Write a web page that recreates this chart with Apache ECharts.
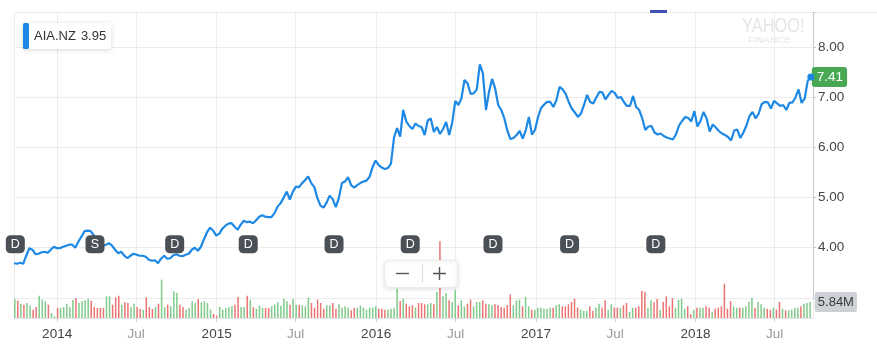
<!DOCTYPE html>
<html>
<head>
<meta charset="utf-8">
<script src="https://cdn.jsdelivr.net/npm/echarts@6/dist/echarts.min.js"></script>
<style>
  html, body { margin: 0; padding: 0; background: #fff; }
  #chart { width: 877px; height: 346px; }
</style>
</head>
<body>
<div id="chart"></div>
<script>
// ---- data -------------------------------------------------------------
const ticker = 'AIA.NZ';
const legendQuote = 3.95;

// weekly closes, first week ending 2013-09-26
const firstWeek = { y: 2013, m: 9, d: 26 };
const axisStart = '2013-09-26';
const axisEnd = '2018-09-25';

const closes = [
  3.69, 3.68, 3.70, 3.68, 3.84, 3.99, 3.96, 3.87, 3.88, 3.91,
  3.92, 3.90, 3.96, 4.02, 3.99, 3.99, 4.02, 4.04, 4.06, 4.06,
  4.00, 4.12, 4.22, 4.33, 4.34, 4.33, 4.25, 4.16, 4.09, 4.04,
  4.06, 4.09, 4.04, 3.96, 3.89, 3.92, 3.84, 3.79, 3.84, 3.88,
  3.86, 3.84, 3.84, 3.82, 3.76, 3.74, 3.75, 3.69, 3.78, 3.84,
  3.78, 3.79, 3.85, 3.87, 3.84, 3.83, 3.86, 3.88, 3.96, 4.00,
  3.94, 4.02, 4.17, 4.31, 4.40, 4.34, 4.24, 4.28, 4.38, 4.44,
  4.48, 4.49, 4.42, 4.36, 4.46, 4.54, 4.51, 4.52, 4.49, 4.55,
  4.62, 4.65, 4.62, 4.61, 4.61, 4.69, 4.82, 4.89, 5.00, 5.12,
  4.96, 5.12, 5.22, 5.21, 5.29, 5.35, 5.42, 5.29, 5.21, 4.99,
  4.84, 4.80, 4.90, 5.04, 4.97, 4.81, 4.99, 5.29, 5.32, 5.41,
  5.25, 5.20, 5.25, 5.29, 5.32, 5.34, 5.41, 5.61, 5.74, 5.65,
  5.60, 5.57, 5.59, 5.68, 6.20, 6.39, 6.22, 6.75, 6.52, 6.43,
  6.37, 6.48, 6.43, 6.41, 6.25, 6.54, 6.58, 6.31, 6.41, 6.27,
  6.37, 6.51, 6.25, 6.50, 6.93, 6.85, 6.98, 7.35, 7.28, 7.07,
  7.08, 7.16, 7.66, 7.48, 6.75, 7.11, 7.37, 7.18, 6.85, 6.75,
  6.58, 6.33, 6.17, 6.19, 6.25, 6.33, 6.18, 6.35, 6.61, 6.26,
  6.35, 6.61, 6.79, 6.86, 6.91, 6.91, 6.81, 6.95, 7.21, 7.16,
  7.07, 6.91, 6.78, 6.70, 6.61, 6.68, 6.85, 7.05, 6.91, 6.88,
  7.00, 7.11, 7.10, 6.96, 7.05, 7.13, 7.09, 6.99, 7.01, 6.91,
  6.83, 6.83, 7.03, 6.81, 6.75, 6.58, 6.35, 6.42, 6.43, 6.30,
  6.26, 6.28, 6.23, 6.20, 6.18, 6.16, 6.26, 6.44, 6.53, 6.61,
  6.59, 6.52, 6.73, 6.42, 6.53, 6.71, 6.58, 6.32, 6.46, 6.40,
  6.33, 6.28, 6.25, 6.21, 6.14, 6.34, 6.36, 6.19, 6.30, 6.44,
  6.63, 6.71, 6.58, 6.68, 6.87, 6.91, 6.90, 6.78, 6.93, 6.88,
  6.83, 6.85, 6.75, 6.89, 6.90, 7.00, 7.16, 6.89, 6.98, 7.33,
  7.41
];

// weekly volume, millions of shares
const volumesM = [
  7.06, 6.33, 5.23, 4.87, 5.48, 4.50, 3.04, 4.02, 8.15, 6.69,
  6.09, 4.87, 1.83, 0.61, 3.65, 3.65, 4.02, 5.23, 4.02, 6.69,
  7.30, 5.48, 6.09, 6.45, 7.06, 6.33, 4.02, 3.65, 3.65, 3.65,
  7.91, 7.91, 4.87, 7.55, 8.15, 4.87, 5.72, 5.48, 4.02, 5.23,
  4.02, 3.41, 3.04, 7.55, 4.02, 3.29, 4.02, 5.23, 14.0, 4.02,
  4.87, 4.26, 9.74, 9.13, 4.87, 4.02, 3.04, 3.65, 6.09, 5.48,
  6.94, 5.72, 6.09, 5.48, 3.04, 1.46, 0.85, 4.02, 3.04, 3.65,
  4.02, 4.26, 4.87, 7.67, 4.02, 4.02, 8.15, 6.69, 4.02, 3.29,
  4.50, 3.65, 3.65, 3.65, 4.26, 4.87, 5.72, 4.50, 7.06, 6.09,
  4.87, 7.06, 4.87, 4.87, 4.62, 4.26, 7.42, 5.48, 3.77, 6.69,
  5.48, 3.41, 4.62, 4.62, 5.48, 3.41, 4.99, 3.77, 4.26, 3.77,
  2.80, 3.77, 3.77, 4.62, 3.77, 3.04, 3.77, 3.77, 4.26, 3.41,
  3.41, 3.04, 3.04, 3.41, 3.77, 10.7, 6.21, 7.06, 5.23, 4.26,
  4.62, 3.77, 5.48, 5.48, 4.99, 4.99, 5.48, 4.99, 9.49, 28.0,
  7.91, 9.13, 6.45, 5.84, 10.1, 4.62, 6.45, 4.26, 5.23, 6.69,
  4.26, 5.84, 5.84, 6.45, 5.23, 4.99, 4.62, 4.99, 4.62, 4.02,
  3.77, 4.62, 8.64, 4.62, 6.45, 6.69, 4.26, 7.67, 4.26, 3.04,
  3.04, 3.77, 3.77, 3.41, 3.41, 3.77, 3.77, 4.62, 4.99, 4.26,
  4.26, 4.99, 5.84, 7.06, 3.77, 3.04, 2.56, 2.56, 4.26, 2.56,
  3.77, 5.23, 3.77, 6.45, 3.04, 4.99, 3.77, 3.77, 3.77, 4.62,
  5.48, 2.19, 3.77, 3.77, 4.26, 9.86, 9.49, 3.77, 6.45, 5.72,
  6.94, 3.04, 5.84, 7.91, 4.26, 7.30, 3.77, 6.69, 7.06, 3.41,
  4.26, 1.34, 3.04, 3.77, 3.77, 3.77, 4.26, 3.77, 2.19, 3.41,
  3.77, 4.26, 12.5, 3.41, 6.09, 4.26, 3.77, 3.77, 3.77, 4.26,
  5.84, 7.42, 3.77, 5.84, 4.99, 3.77, 3.41, 3.04, 3.77, 3.04,
  5.84, 3.41, 2.80, 2.80, 3.04, 3.77, 3.77, 4.26, 5.23, 5.48,
  5.84
];

// dividend (D) and split (S) events
const eventDates = [
  '2013-09-29', '2014-03-30', '2014-09-28', '2015-03-15', '2015-09-27',
  '2016-03-19', '2016-09-24', '2017-03-18', '2017-10-01'
];
const eventTypes = ['D', 'S', 'D', 'D', 'D', 'D', 'D', 'D', 'D'];

const priceMin = 3;
const priceMax = 8.7;
const priceStep = 1;
const volumeMaxM = 111.6;

// ---- styling ----------------------------------------------------------
const FONT = "'Liberation Sans', 'Helvetica Neue', Arial, sans-serif";
const LINE_BLUE = '#1e88e5';
const UP_GREEN = '#7fcb8b';
const DOWN_RED = '#ea7472';
const GRID_GREY = '#ececec';
const MONTHS = ['Jan', 'Feb', 'Mar', 'Apr', 'May', 'Jun', 'Jul', 'Aug', 'Sep', 'Oct', 'Nov', 'Dec'];

// ---- derived series ---------------------------------------------------
const weekDates = closes.map((_, i) =>
  new Date(firstWeek.y, firstWeek.m - 1, firstWeek.d + 7 * i));

const priceData = closes.map((c, i) => [weekDates[i], c]);
const lastIdx = closes.length - 1;

const volumeData = volumesM.map((v, i) => {
  const up = i === 0 || closes[i] >= closes[i - 1];
  const item = { value: [weekDates[i], v], itemStyle: { color: up ? UP_GREEN : DOWN_RED } };
  if (i === volumesM.length - 1) {
    item.label = {
      show: true,
      position: 'right',
      distance: 4,
      offset: [0, -8],
      formatter: () => v.toFixed(2) + 'M',
      backgroundColor: '#cdd0d5',
      color: '#3a3a3a',
      fontFamily: FONT,
      fontSize: 13,
      padding: [4, 3, 3, 3],
      borderRadius: 2
    };
  }
  return item;
});

const eventLevel = 4.07; // events sit in a band just above 4.00
const eventData = eventDates.map((d, i) => ({ value: [d, eventLevel], name: eventTypes[i] }));

// ---- chart ------------------------------------------------------------
const chart = echarts.init(document.getElementById('chart'), null, { renderer: 'canvas' });

chart.setOption({
  animation: false,
  backgroundColor: '#fff',
  textStyle: { fontFamily: FONT },
  legend: {
    left: 23,
    top: 23,
    data: [ticker],
    selectedMode: false,
    icon: 'roundRect',
    itemWidth: 6,
    itemHeight: 26,
    padding: [0, 5, 0, 0],
    backgroundColor: '#fff',
    borderRadius: 3,
    shadowBlur: 5,
    shadowColor: 'rgba(0,0,0,0.16)',
    shadowOffsetY: 1,
    formatter: name => '{n|' + name + '}{v|' + legendQuote.toFixed(2) + '}',
    textStyle: {
      rich: {
        n: { fontFamily: FONT, fontSize: 13, color: '#333' },
        v: { fontFamily: FONT, fontSize: 13, color: '#333', padding: [0, 0, 0, 5] }
      }
    }
  },
  grid: [
    { left: 14, right: 64, top: 12.3, bottom: 48.2 },   // price
    { left: 14, right: 64, top: 12.3, bottom: 28 }      // volume + time axis
  ],
  xAxis: [
    {
      type: 'time', gridIndex: 0, min: axisStart, max: axisEnd, show: false
    },
    {
      type: 'time', gridIndex: 1, min: axisStart, max: axisEnd,
      splitNumber: 10,
      axisLine: { show: true, lineStyle: { color: '#e4e4e4' } },
      axisTick: { show: true, length: 4, lineStyle: { color: '#d0d0d0' } },
      splitLine: { show: true, lineStyle: { color: GRID_GREY, width: 1 } },
      axisLabel: {
        margin: 9,
        hideOverlap: false,
        formatter: value => {
          const d = new Date(value);
          return d.getMonth() === 0 ? '{yr|' + d.getFullYear() + '}' : '{mo|' + MONTHS[d.getMonth()] + '}';
        },
        rich: {
          yr: { fontFamily: FONT, fontSize: 13.5, color: '#444' },
          mo: { fontFamily: FONT, fontSize: 13.5, color: '#999' }
        }
      }
    }
  ],
  yAxis: [
    {
      type: 'value', gridIndex: 0, position: 'right',
      min: priceMin, max: priceMax, interval: priceStep,
      axisLine: { show: true, lineStyle: { color: '#c8c8c8' } },
      axisTick: { show: true, length: 3, lineStyle: { color: '#c8c8c8' } },
      splitLine: { show: true, lineStyle: { color: GRID_GREY } },
      axisLabel: {
        margin: 5,
        color: '#444',
        fontFamily: FONT,
        fontSize: 13.5,
        formatter: v => (Math.abs(v - Math.round(v)) < 1e-9 ? v.toFixed(2) : '')
      }
    },
    {
      type: 'value', gridIndex: 1, min: 0, max: volumeMaxM, show: false
    }
  ],
  series: [
    {
      name: 'Volume',
      type: 'bar',
      xAxisIndex: 1, yAxisIndex: 1,
      barWidth: 1.5,
      z: 1,
      data: volumeData
    },
    {
      name: ticker,
      type: 'line',
      xAxisIndex: 0, yAxisIndex: 0,
      showSymbol: false,
      symbol: 'none',
      z: 3,
      lineStyle: { color: LINE_BLUE, width: 2.2 },
      itemStyle: { color: LINE_BLUE },
      data: priceData,
      endLabel: {
        show: true,
        distance: 1,
        formatter: p => p.value[1].toFixed(2),
        backgroundColor: '#48a854',
        color: '#fff',
        fontFamily: FONT,
        fontSize: 13.5,
        padding: [3, 4, 3, 5],
        borderRadius: 3
      }
    },
    {
      name: 'Last',
      type: 'scatter',
      xAxisIndex: 0, yAxisIndex: 0,
      symbol: 'circle',
      symbolSize: 7,
      z: 4,
      itemStyle: { color: LINE_BLUE, opacity: 1 },
      data: [[weekDates[lastIdx], closes[lastIdx]]]
    },
    {
      name: 'Events',
      type: 'scatter',
      xAxisIndex: 0, yAxisIndex: 0,
      symbol: 'roundRect',
      symbolSize: [19, 18],
      z: 5,
      itemStyle: { color: '#4b5057', opacity: 1 },
      label: {
        show: true,
        position: 'inside',
        formatter: p => p.name,
        color: '#fff',
        fontFamily: FONT,
        fontSize: 12.5
      },
      data: eventData
    }
  ],
  graphic: [
    // small indicator bar on the top border
    { type: 'rect', left: 650, top: 10, shape: { width: 17, height: 3 }, style: { fill: '#3f51b5' }, z: 10 },
    // top border continues past the price axis
    { type: 'rect', left: 813, top: 12, shape: { width: 64, height: 1 }, style: { fill: '#ececec' }, z: 0 },
    // watermark
    {
      type: 'text', x: 742, y: 16, scaleX: 0.78,
      style: { text: 'YAHOO!', font: "21px " + FONT, fill: '#e6e6e6' }, z: 0
    },
    {
      type: 'text', x: 748, y: 35,
      style: { text: 'FINANCE', font: "bold 9.5px " + FONT, fill: '#ececec' }, z: 0
    },
    // zoom control: box, minus, divider, plus
    {
      type: 'rect', left: 384, top: 260, z: 20,
      shape: { width: 73, height: 27, r: 4 },
      style: { fill: '#fff', stroke: '#ececec', lineWidth: 1, shadowBlur: 4, shadowColor: 'rgba(0,0,0,0.12)', shadowOffsetY: 1 }
    },
    {
      type: 'polygon', z: 21,
      shape: { points: [[396, 272.8], [409, 272.8], [409, 274.2], [396, 274.2]] },
      style: { fill: '#555' }
    },
    {
      type: 'polygon', z: 21,
      shape: { points: [[422, 264], [423, 264], [423, 283], [422, 283]] },
      style: { fill: '#dddddd' }
    },
    {
      type: 'polygon', z: 21,
      shape: {
        points: [
          [438.8, 267], [440.2, 267], [440.2, 272.8], [446, 272.8], [446, 274.2],
          [440.2, 274.2], [440.2, 280], [438.8, 280], [438.8, 274.2], [433, 274.2],
          [433, 272.8], [438.8, 272.8]
        ]
      },
      style: { fill: '#555' }
    }
  ]
});
</script>
</body>
</html>
